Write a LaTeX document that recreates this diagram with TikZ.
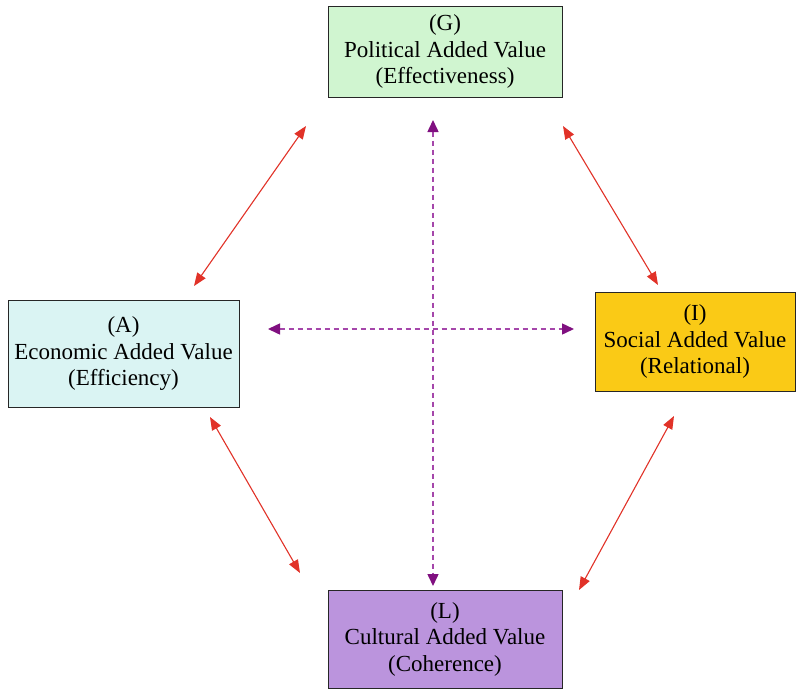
\documentclass[tikz,border=0pt]{standalone}
\usepackage{fontspec}
\setmainfont{Liberation Serif}
\usetikzlibrary{arrows.meta}
\definecolor{gfill}{RGB}{208,245,208}
\definecolor{afill}{RGB}{218,244,243}
\definecolor{ifill}{RGB}{250,202,22}
\definecolor{lfill}{RGB}{187,148,221}
\definecolor{redline}{RGB}{225,50,40}
\definecolor{purp}{RGB}{128,16,128}
\definecolor{purpl}{RGB}{165,70,170}
\tikzset{
  box/.style={draw=black!85, line width=1pt, align=center, font=\fontsize{23}{26.5}\selectfont, inner sep=0pt},
  redarr/.style={draw=redline, line width=1.1pt, {Triangle[length=13pt,width=10pt]}-{Triangle[length=13pt,width=10pt]}, color=redline},
  purarr/.style={draw=purpl, line width=1.5pt, dash pattern=on 5pt off 4pt, {Triangle[length=12pt,width=11pt,color=purp]}-{Triangle[length=12pt,width=11pt,color=purp]}}
}
\begin{document}
\begin{tikzpicture}[x=1pt,y=-1pt]
\useasboundingbox (0,0) rectangle (796,689);
\node[box, fill=gfill, minimum width=234pt, minimum height=91pt] (G) at (445,51.5) {(G)\\Political Added Value\\(Effectiveness)};
\node[box, fill=afill, minimum width=231pt, minimum height=107pt] (A) at (123.5,353.5) {(A)\\Economic Added Value\\(Efficiency)};
\node[box, fill=ifill, minimum width=200pt, minimum height=99pt] (I) at (695,341.5) {(I)\\Social Added Value\\(Relational)};
\node[box, fill=lfill, minimum width=234pt, minimum height=98pt] (L) at (445,639) {(L)\\Cultural Added Value\\(Coherence)};
\coordinate (ga1) at (306,126); \coordinate (ga2) at (194,286);
\coordinate (gi1) at (563,126); \coordinate (gi2) at (658,285);
\coordinate (al1) at (210,417); \coordinate (al2) at (300,573);
\coordinate (il1) at (674,416); \coordinate (il2) at (579,590);
\coordinate (v1) at (433,120); \coordinate (v2) at (433,586);
\coordinate (h1) at (268,329); \coordinate (h2) at (574,329);
\draw[redarr] (ga1) -- (ga2);
\draw[redarr] (gi1) -- (gi2);
\draw[redarr] (al1) -- (al2);
\draw[redarr] (il1) -- (il2);
\draw[purarr] (v1) -- (v2);
\draw[purarr] (h1) -- (h2);
\end{tikzpicture}
\end{document}
